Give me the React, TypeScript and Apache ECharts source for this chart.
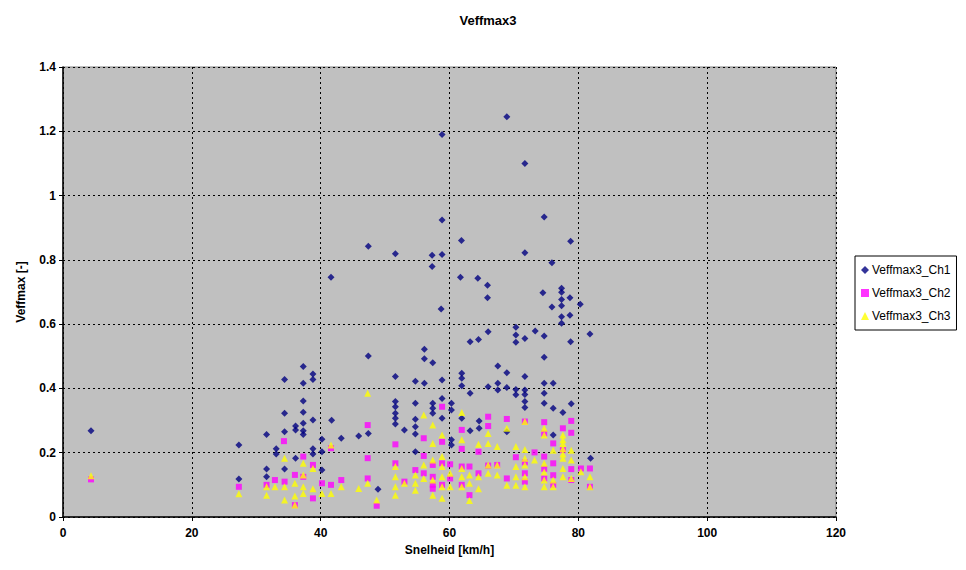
import React, { useEffect, useRef } from "react";
import * as echarts from "echarts";

const title = "Veffmax3";
const xName = "Snelheid [km/h]";
const yName = "Veffmax [-]";
const seriesNames = ["Veffmax3_Ch1", "Veffmax3_Ch2", "Veffmax3_Ch3"];

const ch1: number[][] = [
  [4.35, 0.268],
  [27.3, 0.224], [27.3, 0.118],
  [31.6, 0.257], [31.6, 0.149], [31.6, 0.125],
  [33.1, 0.212], [33.1, 0.196],
  [34.4, 0.428], [34.4, 0.323], [34.4, 0.265], [34.4, 0.149],
  [36.1, 0.283], [36.1, 0.271], [36.1, 0.183],
  [37.3, 0.468], [37.3, 0.416], [37.3, 0.361], [37.3, 0.326], [37.3, 0.292], [37.3, 0.268], [37.3, 0.257],
  [38.8, 0.445], [38.8, 0.428], [38.8, 0.302], [38.8, 0.212], [38.8, 0.196],
  [40.2, 0.242], [40.2, 0.203], [40.2, 0.146],
  [41.6, 0.746], [41.7, 0.301],
  [43.2, 0.245],
  [45.9, 0.252],
  [47.4, 0.842], [47.4, 0.501], [47.4, 0.26],
  [48.9, 0.086],
  [51.6, 0.819], [51.6, 0.437], [51.6, 0.359], [51.6, 0.343], [51.6, 0.323], [51.6, 0.307], [51.6, 0.289],
  [53.0, 0.271],
  [54.7, 0.422], [54.7, 0.354], [54.7, 0.304], [54.7, 0.281], [54.7, 0.258], [54.7, 0.203],
  [56.1, 0.522], [56.1, 0.492], [56.1, 0.416],
  [57.3, 0.814], [57.3, 0.779], [57.4, 0.48], [57.4, 0.354], [57.4, 0.338], [57.4, 0.323],
  [58.85, 1.19], [58.85, 0.924], [58.85, 0.817], [58.7, 0.647], [58.85, 0.426], [58.85, 0.369], [58.85, 0.307],
  [60.3, 0.354], [60.3, 0.333], [60.3, 0.24], [60.3, 0.224],
  [61.85, 0.86], [61.7, 0.746], [61.9, 0.447], [61.9, 0.432], [61.9, 0.408], [61.9, 0.307],
  [63.2, 0.545], [63.2, 0.385], [63.2, 0.268],
  [64.4, 0.743], [64.5, 0.552], [64.6, 0.299], [64.6, 0.276],
  [65.9, 0.721], [65.9, 0.682], [66.0, 0.576], [66.0, 0.405],
  [67.5, 0.47], [67.5, 0.416], [67.5, 0.395],
  [68.9, 1.245], [68.9, 0.449], [68.9, 0.403], [68.9, 0.265],
  [70.3, 0.59], [70.3, 0.566], [70.3, 0.544], [70.3, 0.397], [70.3, 0.38],
  [71.7, 1.1], [71.7, 0.822], [71.7, 0.555], [71.7, 0.437], [71.7, 0.395], [71.7, 0.381], [71.7, 0.359], [71.7, 0.341],
  [73.3, 0.579],
  [74.5, 0.698], [74.7, 0.933], [74.7, 0.563], [74.7, 0.497], [74.7, 0.416], [74.7, 0.385], [74.7, 0.354],
  [75.9, 0.791], [75.9, 0.653], [76.1, 0.416], [76.1, 0.338], [76.1, 0.255],
  [77.4, 0.712], [77.4, 0.699], [77.4, 0.677], [77.4, 0.657], [77.4, 0.623], [77.4, 0.603], [77.6, 0.325],
  [78.8, 0.858], [78.7, 0.682], [78.7, 0.628], [78.8, 0.545], [78.9, 0.352],
  [80.3, 0.662],
  [81.8, 0.569], [81.9, 0.183],
];

const ch2: number[][] = [
  [4.35, 0.117],
  [27.3, 0.094],
  [31.6, 0.1],
  [32.9, 0.115],
  [34.3, 0.236], [34.4, 0.11],
  [36.0, 0.131], [36.0, 0.037],
  [37.3, 0.188], [37.3, 0.125],
  [38.8, 0.162], [38.8, 0.058],
  [40.2, 0.105],
  [41.6, 0.214], [41.6, 0.1],
  [43.2, 0.115],
  [47.3, 0.286], [47.3, 0.183], [47.3, 0.12],
  [48.7, 0.035],
  [51.6, 0.226], [51.6, 0.167],
  [53.0, 0.11],
  [54.7, 0.146],
  [56.0, 0.245], [56.0, 0.19], [56.0, 0.136],
  [57.4, 0.162], [57.4, 0.125], [57.4, 0.1], [57.4, 0.088],
  [58.85, 0.343], [58.85, 0.234], [58.85, 0.167], [58.85, 0.1],
  [60.1, 0.164], [60.1, 0.12],
  [61.9, 0.271], [61.9, 0.212], [61.9, 0.157], [61.9, 0.1],
  [63.1, 0.157], [63.1, 0.068],
  [64.5, 0.203], [64.5, 0.136],
  [66.0, 0.312], [66.0, 0.283], [66.0, 0.16],
  [67.4, 0.162],
  [68.9, 0.305], [68.9, 0.12],
  [70.3, 0.186],
  [71.7, 0.297], [71.7, 0.17], [71.7, 0.136], [71.7, 0.11],
  [73.2, 0.201],
  [74.7, 0.295], [74.7, 0.26], [74.7, 0.188], [74.7, 0.15], [74.7, 0.12],
  [76.1, 0.229], [76.1, 0.167], [76.1, 0.13], [76.1, 0.1],
  [77.6, 0.276], [77.6, 0.208],
  [78.9, 0.299], [78.9, 0.262], [78.9, 0.149], [78.9, 0.115],
  [80.4, 0.151],
  [81.8, 0.151], [81.8, 0.094],
];

const ch3: number[][] = [
  [4.35, 0.128],
  [27.3, 0.072],
  [31.6, 0.094], [31.6, 0.068],
  [32.9, 0.094],
  [34.4, 0.183], [34.4, 0.094], [34.4, 0.053],
  [36.0, 0.105], [36.0, 0.065], [36.0, 0.037],
  [37.3, 0.167], [37.3, 0.131], [37.3, 0.094], [37.3, 0.073],
  [38.8, 0.151], [38.8, 0.088],
  [40.2, 0.073],
  [41.6, 0.224], [41.6, 0.073],
  [43.2, 0.094],
  [45.9, 0.089],
  [47.3, 0.385], [47.3, 0.105],
  [48.7, 0.053],
  [51.6, 0.157], [51.6, 0.125], [51.6, 0.094], [51.6, 0.068],
  [53.0, 0.105],
  [54.7, 0.131], [54.7, 0.105], [54.7, 0.083],
  [56.0, 0.317], [56.0, 0.162], [56.0, 0.12],
  [57.4, 0.286], [57.4, 0.229], [57.4, 0.177], [57.4, 0.115], [57.4, 0.068],
  [58.85, 0.255], [58.85, 0.188], [58.85, 0.157], [58.85, 0.125], [58.85, 0.094], [58.85, 0.058],
  [60.1, 0.136], [60.1, 0.094],
  [61.9, 0.325], [61.9, 0.24], [61.9, 0.151], [61.9, 0.125], [61.9, 0.094],
  [63.1, 0.131], [63.1, 0.105], [63.1, 0.051],
  [64.5, 0.226], [64.5, 0.125], [64.5, 0.088],
  [66.0, 0.26], [66.0, 0.229], [66.0, 0.162], [66.0, 0.136],
  [67.4, 0.219], [67.4, 0.162], [67.4, 0.131],
  [68.9, 0.276], [68.9, 0.099],
  [70.3, 0.219], [70.3, 0.157], [70.3, 0.125], [70.3, 0.099],
  [71.7, 0.297], [71.7, 0.21], [71.7, 0.183], [71.7, 0.162], [71.7, 0.125], [71.7, 0.094],
  [73.2, 0.177],
  [74.7, 0.276], [74.7, 0.255], [74.7, 0.167], [74.7, 0.14], [74.7, 0.115], [74.7, 0.094],
  [76.1, 0.208], [76.1, 0.115], [76.1, 0.094],
  [77.6, 0.255], [77.6, 0.24], [77.6, 0.229], [77.6, 0.212], [77.6, 0.196], [77.6, 0.183], [77.6, 0.151], [77.6, 0.125],
  [78.9, 0.208], [78.9, 0.177], [78.9, 0.12],
  [80.4, 0.141],
  [81.8, 0.125], [81.8, 0.094],
];

const FONT = "'Liberation Sans', Arial, sans-serif";

export default function App() {
  const ref = useRef<HTMLDivElement>(null);
  useEffect(() => {
    if (!ref.current) return;
    const chart = echarts.init(ref.current, null, { renderer: "svg" });
    const gridLine = { show: true, lineStyle: { color: "#000", type: [2, 3] as any, width: 1 } };
    chart.setOption({
      animation: false,
      backgroundColor: "#ffffff",
      textStyle: { fontFamily: FONT },
      title: {
        text: title,
        left: 483,
        textAlign: "center",
        top: 9,
        textStyle: { fontFamily: FONT, fontSize: 13, fontWeight: "bold", color: "#000" },
      },
      legend: {
        orient: "vertical",
        left: 855,
        top: 256,
        width: 107,
        padding: [8, 6, 8, 6],
        itemGap: 11,
        itemWidth: 8,
        itemHeight: 8,
        borderColor: "#000",
        borderWidth: 1,
        backgroundColor: "#fff",
        textStyle: { fontFamily: FONT, fontSize: 12, color: "#000", padding: [0, 0, 0, -2] },
        data: [
          { name: seriesNames[0], icon: "diamond" },
          { name: seriesNames[1], icon: "rect" },
          { name: seriesNames[2], icon: "triangle" },
        ],
      },
      grid: {
        left: 63,
        right: 130,
        top: 67,
        bottom: 53,
        show: true,
        backgroundColor: "#c0c0c0",
        borderColor: "#808080",
        borderWidth: 1,
      },
      xAxis: {
        type: "value",
        min: 0,
        max: 120,
        interval: 20,
        name: xName,
        nameLocation: "middle",
        nameGap: 27,
        nameTextStyle: { fontFamily: FONT, fontSize: 12, fontWeight: "bold", color: "#000" },
        axisLine: { show: true, onZero: false, lineStyle: { color: "#000", width: 1.5 } },
        axisTick: { show: true, length: 4, lineStyle: { color: "#000" } },
        axisLabel: { fontFamily: FONT, fontSize: 12, fontWeight: "bold", color: "#000", margin: 10 },
        splitLine: gridLine,
      },
      yAxis: {
        type: "value",
        min: 0,
        max: 1.4,
        interval: 0.2,
        name: yName,
        nameLocation: "middle",
        nameRotate: 90,
        nameGap: 36,
        nameTextStyle: { fontFamily: FONT, fontSize: 12, fontWeight: "bold", color: "#000" },
        axisLine: { show: true, onZero: false, lineStyle: { color: "#000", width: 1.5 } },
        axisTick: { show: true, length: 4, lineStyle: { color: "#000" } },
        axisLabel: {
          fontFamily: FONT,
          fontSize: 12,
          fontWeight: "bold",
          color: "#000",
          margin: 7,
          formatter: (v: number) => String(Math.round(v * 10) / 10),
        },
        splitLine: gridLine,
      },
      series: [
        {
          name: seriesNames[0],
          type: "scatter",
          data: ch1,
          symbol: "diamond",
          symbolSize: 7,
          itemStyle: { color: "#000080" },
        },
        {
          name: seriesNames[1],
          type: "scatter",
          data: ch2,
          symbol: "rect",
          symbolSize: 6,
          itemStyle: { color: "#ff00ff" },
        },
        {
          name: seriesNames[2],
          type: "scatter",
          data: ch3,
          symbol: "triangle",
          symbolSize: 7,
          itemStyle: { color: "#ffff00" },
        },
      ],
    });
    return () => chart.dispose();
  }, []);
  return (
    <div
      ref={ref}
      style={{ position: "fixed", left: 0, top: 0, width: 966, height: 570 }}
    />
  );
}
